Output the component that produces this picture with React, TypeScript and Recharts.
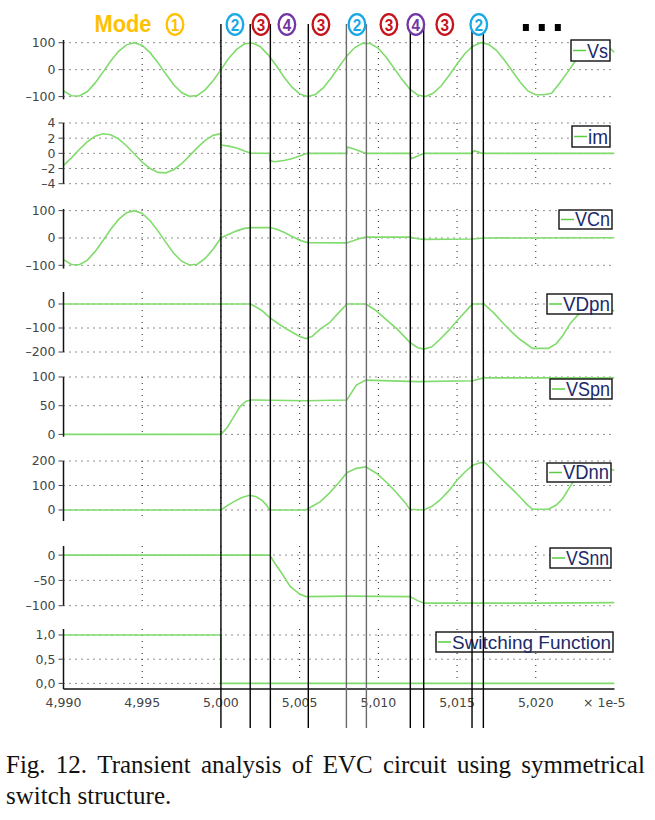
import React from 'react';
import { LineChart, Line, XAxis, YAxis, CartesianGrid, ReferenceLine, ReferenceDot } from 'recharts';

// ---------- data (time in units of 1e-5 s) ----------
const X_DOMAIN: [number, number] = [4.990, 5.025];
const X_TICKS = [4.990, 4.995, 5.000, 5.005, 5.010, 5.015, 5.020];

const vsT = [4.990,4.9905,4.991,4.9915,4.992,4.9925,4.993,4.9935,4.994,4.9945,4.995,4.9955,4.996,4.9965,4.997,4.9975,4.998,4.9985,4.999,4.9995,5.000,5.0005,5.001,5.0015,5.002,5.0025,5.003,5.0035,5.004,5.0045,5.005,5.0055,5.006,5.0065,5.007,5.0075,5.008,5.0085,5.009,5.0095,5.010,5.0105,5.011,5.0115,5.012,5.0125,5.013,5.0135,5.014,5.0145,5.015,5.0155,5.016,5.0165,5.017,5.0175,5.018,5.0185,5.019,5.0195,5.020,5.0205,5.021,5.0215,5.022,5.0225,5.023,5.0235,5.024,5.0245,5.025];
const vsV = [-79,-97,-98,-82,-50,-10,32,68,92,100,90,63,26,-16,-56,-85,-99,-96,-75,-41,0,42,75,96,99,85,55,16,-27,-64,-90,-100,-92,-68,-31,11,51,82,98,97,79,46,5,-36,-72,-94,-100,-87,-60,-21,21,60,87,100,94,72,36,-5,-46,-79,-93,-93,-88,-51,-11,31,68,92,100,90,64];

const imT = [4.990,4.9905,4.991,4.9915,4.992,4.9925,4.993,4.9935,4.994,4.9945,4.995,4.9955,4.996,4.9965,4.997,4.9975,4.998,4.9985,4.999,4.9995,5.000,5.000,5.0005,5.001,5.0015,5.0019,5.0031,5.0031,5.0034,5.004,5.0045,5.005,5.0055,5.008,5.008,5.0084,5.0088,5.0092,5.012,5.0121,5.0125,5.0129,5.0159,5.0161,5.0166,5.025];
const imV = [-1.59,-0.6,0.5,1.51,2.25,2.59,2.46,1.9,1.0,-0.08,-1.15,-2.01,-2.51,-2.57,-2.16,-1.37,-0.34,0.76,1.72,2.37,2.62,1.1,0.95,0.7,0.3,0.02,0,-0.95,-1.1,-0.95,-0.7,-0.35,0,0,0.85,0.6,0.3,0,0,-0.7,-0.35,0,0,0.35,0,0];

const vcnT = [4.990,4.9905,4.991,4.9915,4.992,4.9925,4.993,4.9935,4.994,4.9945,4.995,4.9955,4.996,4.9965,4.997,4.9975,4.998,4.9985,4.999,4.9995,5.000,5.0005,5.001,5.0015,5.0019,5.0031,5.0035,5.004,5.0045,5.005,5.0055,5.008,5.0084,5.0088,5.0092,5.012,5.0125,5.0129,5.016,5.0167,5.025];
const vcnV = [-79,-97,-98,-82,-50,-10,32,68,92,100,90,63,26,-16,-56,-85,-99,-96,-75,-41,0,14,26,35,38,38,33,21,6,-8,-17,-18,-10,-2,3,3,-3,-5,-4,0,1];

const vdpnT = [4.990,5.0019,5.0026,5.0031,5.0037,5.0042,5.005,5.0054,5.0058,5.0063,5.0069,5.0075,5.008,5.0092,5.0098,5.0105,5.0112,5.012,5.0125,5.0129,5.0134,5.0139,5.0145,5.015,5.0158,5.016,5.0167,5.0173,5.0179,5.0185,5.019,5.0198,5.0208,5.0213,5.0217,5.0222,5.0228,5.0234,5.0242,5.025];
const vdpnV = [0,0,-27,-57,-85,-105,-135,-144,-135,-105,-78,-35,0,0,-25,-65,-105,-160,-182,-188,-178,-148,-108,-70,-12,0,0,-35,-78,-118,-148,-185,-185,-165,-133,-80,-37,0,0,-30];

const vspnT = [4.990,5.000,5.0004,5.0008,5.0012,5.0016,5.0019,5.0054,5.008,5.0086,5.0092,5.0125,5.016,5.0167,5.025];
const vspnV = [0,0,12,30,48,58,60,58.5,60,86,94.5,92,93.5,98.5,98.5];

const vdnnT = [4.990,5.000,5.0004,5.0008,5.0013,5.0018,5.0022,5.0026,5.0029,5.0031,5.0054,5.0058,5.0063,5.0069,5.0075,5.008,5.0086,5.0092,5.0099,5.0106,5.0112,5.0117,5.012,5.0129,5.0134,5.0139,5.0145,5.015,5.0155,5.016,5.0165,5.0168,5.0173,5.0179,5.0185,5.019,5.0194,5.0198,5.0208,5.0213,5.0217,5.0223,5.023,5.024,5.025];
const vdnnV = [0,0,18,33,50,60,55,40,20,0,0,15,33,70,112,152,170,176,149,108,67,30,3,0,15,40,80,122,155,183,194,192,160,122,85,53,25,3,3,20,46,108,150,178,162];

const vsnnT = [4.990,5.0031,5.0034,5.0038,5.0044,5.005,5.0054,5.008,5.012,5.0125,5.0129,5.020,5.025];
const vsnnV = [0,0,-15,-33,-62,-77,-82,-81,-82,-90,-95,-95,-94];

const sfT = [4.990,5.000,5.000,5.025];
const sfV = [1,1,0,0];

const SERIES_NAMES = ['Vs','im','VCn','VDpn','VSpn','VDnn','VSnn','Switching Function'];
const Y_DOMAINS: [number, number][] = [[-110,110],[-4,4],[-112,106],[-200,50],[-4,100],[-45,200],[-100,18],[-0.116,1.124]];
const Y_TICKS = [[-100,0,100],[-4,-2,0,2,4],[-100,0,100],[-200,-100,0],[0,50,100],[0,100,200],[-100,-50,0],[0,0.5,1]];
const SERIES_T = [vsT, imT, vcnT, vdpnT, vspnT, vdnnT, vsnnT, sfT];
const SERIES_V = [vsV, imV, vcnV, vdpnV, vspnV, vdnnV, vsnnV, sfV];

// mode annotation
const MODE_LINES = [5.0000, 5.00186, 5.00314, 5.00555, 5.00797, 5.00924, 5.01203, 5.01288, 5.01595, 5.01667];
const MODE_LINE_GRAY = [false, false, false, false, true, true, false, false, false, false];
const MODE_X = [4.99708, 5.00089, 5.00254, 5.00419, 5.00635, 5.00864, 5.01067, 5.01238, 5.01422, 5.01638];
const MODE_N = ['1', '2', '3', '4', '3', '2', '3', '4', '3', '2'];
const MODE_WORD_X = 4.99378;
const ELLIPSIS_X = [5.01937, 5.02038, 5.0214];

// ---------- layout / style ----------
const W = 655;
const H = 820;
const PLOT_LEFT = 63.5;
const RIGHT_M = 40.5;
const GREEN = '#80dc6c';
const X_AXIS_H = 22;
const PANEL_TB: [number, number][] = [[40,99.3],[123.3,184],[208.7,268.3],[292,352],[377,436.7],[460.7,520.7],[546,605.7],[629.3,689.3]];
const LEGEND_BOX: [number, number, number, number][] = [
  [571,610,40,61],[572,610,126,147],[559,612,210,229],[547,612,294,314],
  [550,612,379,399],[547,611,463,482],[550,611,548,568],[436,613,632,652],
];
const MODE_COLORS: Record<string, string> = { '1': '#FFC000', '2': '#19A8E6', '3': '#C4141C', '4': '#7236A6' };

const fmtY = (v: number) => (v < 0 ? '\u2013' + Math.abs(v) : String(v));
const fmtComma = (v: number) => v.toFixed(1).replace('.', ',');
const fmtX = (v: number) => v.toFixed(3).replace('.', ',');
const NoTick = () => <g />;

function Panel({ idx }: { idx: number }) {
  const last = idx === SERIES_NAMES.length - 1;
  const [top, bottom] = PANEL_TB[idx];
  const mTop = 8;
  const mBottom = 8;
  const xh = last ? X_AXIS_H : 0;
  const h = bottom - top + mTop + mBottom + xh;
  const data = SERIES_T[idx].map((t, i) => ({ t, v: SERIES_V[idx][i] }));
  const domain = Y_DOMAINS[idx];
  return (
    <div style={{ position: 'absolute', left: 0, top: top - mTop }}>
      <LineChart width={W} height={h} data={data} margin={{ top: mTop, right: RIGHT_M, bottom: mBottom, left: 0 }}>
        <CartesianGrid stroke="#222" strokeDasharray="1 5" strokeWidth={1}
          verticalValues={X_TICKS} horizontalValues={Y_TICKS[idx]} />
        <XAxis
          dataKey="t" type="number" domain={X_DOMAIN} ticks={X_TICKS} allowDataOverflow interval={0}
          height={xh}
          tick={last ? { fontSize: 12.5, fill: '#444', fontFamily: 'DejaVu Sans' } : NoTick}
          tickFormatter={fmtX} tickLine={false} tickSize={4} tickMargin={5}
          axisLine={{ stroke: '#111', strokeWidth: 1.5 }}
        />
        <XAxis xAxisId="top" orientation="top" dataKey="t" type="number" domain={X_DOMAIN} allowDataOverflow
          height={0} tick={false} tickLine={false} axisLine={{ stroke: '#666', strokeWidth: 1.5 }} />
        <YAxis
          type="number" domain={domain} ticks={Y_TICKS[idx]} allowDataOverflow interval={0} width={PLOT_LEFT}
          tick={{ fontSize: 12.5, fill: '#444', fontFamily: 'DejaVu Sans' }}
          tickFormatter={last ? fmtComma : fmtY} tickSize={5} tickMargin={3}
          tickLine={{ stroke: '#444' }} axisLine={{ stroke: '#111', strokeWidth: 1.5 }}
        />
        <YAxis yAxisId="r" orientation="right" type="number" domain={domain} allowDataOverflow width={0}
          tick={false} tickLine={false} axisLine={{ stroke: '#777', strokeWidth: 1.5 }} />
        <Line dataKey="v" type="linear" stroke={GREEN} strokeWidth={1.6} dot={false} isAnimationActive={false} />
      </LineChart>
    </div>
  );
}

function Legends() {
  return (
    <svg width={W} height={H} style={{ position: 'absolute', left: 0, top: 0, pointerEvents: 'none' }}>
      {SERIES_NAMES.map((name, i) => {
        const [x1, x2, y1, y2] = LEGEND_BOX[i];
        const mid = (y1 + y2) / 2;
        const fs = i === 7 ? 19 : 20;
        return (
          <g key={name}>
            <rect x={x1} y={y1} width={x2 - x1} height={y2 - y1} fill="#fff" stroke="#111" strokeWidth={1.4} />
            <line x1={x1 + 2} x2={x1 + 15} y1={mid} y2={mid} stroke="#5ccc45" strokeWidth={1.5} />
            <text x={x1 + 16} y={y2 - 3} fontSize={fs} fontFamily="Liberation Sans, Arial, sans-serif" fill="#1b2b6b"
              textLength={x2 - x1 - 18} lengthAdjust="spacingAndGlyphs">{name}</text>
          </g>
        );
      })}
      <text x={583} y={707} fontSize={12.5} fontFamily="DejaVu Sans" fill="#444">× 1e-5</text>
    </svg>
  );
}

function ModeMark(props: any) {
  const { cx, cy, n } = props;
  const c = MODE_COLORS[n];
  return (
    <g>
      <ellipse cx={cx} cy={cy + 0.5} rx={8.3} ry={10.3} fill="#fff" stroke={c} strokeWidth={2.3} />
      <text x={cx} y={cy + 6.7} textAnchor="middle" fontSize={17} fontWeight="bold"
        fontFamily="Liberation Sans, Arial, sans-serif" fill={c} textLength={8.5} lengthAdjust="spacingAndGlyphs">{n}</text>
    </g>
  );
}

function Overlay() {
  const data = [{ t: X_DOMAIN[0], y: 0 }, { t: X_DOMAIN[1], y: 1 }];
  return (
    <div style={{ position: 'absolute', left: 0, top: 0, pointerEvents: 'none' }}>
      <LineChart width={W} height={H} data={data} margin={{ top: 24, right: RIGHT_M, bottom: 92, left: PLOT_LEFT }}>
        <XAxis dataKey="t" type="number" domain={X_DOMAIN} hide allowDataOverflow />
        <YAxis type="number" domain={[0, 1]} hide allowDataOverflow />
        {MODE_LINES.map((x, i) => (
          <ReferenceLine key={'l' + i} x={x} stroke={MODE_LINE_GRAY[i] ? '#6a6a6a' : '#000'} strokeWidth={1.4} />
        ))}
        {MODE_X.map((x, i) => (
          <ReferenceDot key={'m' + i} x={x} y={1} r={9} shape={(p: any) => <ModeMark cx={p.cx} cy={p.cy} n={MODE_N[i]} />} />
        ))}
        <ReferenceDot x={MODE_WORD_X} y={1} r={1} shape={(p: any) => (
          <text x={p.cx} y={p.cy + 8} textAnchor="middle" fontSize={23} fontWeight="bold"
            fontFamily="Liberation Sans, Arial, sans-serif" fill="#FFC000" textLength={57} lengthAdjust="spacingAndGlyphs">Mode</text>
        )} />
        {ELLIPSIS_X.map((x, i) => (
          <ReferenceDot key={'d' + i} x={x} y={1} r={3} shape={(p: any) => (
            <rect x={p.cx - 3} y={p.cy} width={6} height={7} fill="#000" />
          )} />
        ))}
      </LineChart>
    </div>
  );
}

const CAPTION_1 = ['Fig.', '12.', 'Transient', 'analysis', 'of', 'EVC', 'circuit', 'using', 'symmetrical'];
const CAPTION_2 = 'switch structure.';

export default function App() {
  const capStyle: React.CSSProperties = {
    position: 'absolute', left: 6, fontFamily: 'Liberation Serif, Times New Roman, serif', fontSize: 25,
    lineHeight: '25px', color: '#111', whiteSpace: 'nowrap',
  };
  return (
    <div style={{ position: 'absolute', left: 0, top: 0, width: W, height: H, background: '#fff', overflow: 'hidden' }}>
      {SERIES_NAMES.map((_, i) => <Panel key={i} idx={i} />)}
      <Legends />
      <Overlay />
      <div style={{ ...capStyle, top: 752, width: 639, display: 'flex', justifyContent: 'space-between' }}>
        {CAPTION_1.map((w, i) => <span key={i}>{w}</span>)}
      </div>
      <div style={{ ...capStyle, top: 783 }}>{CAPTION_2}</div>
    </div>
  );
}
